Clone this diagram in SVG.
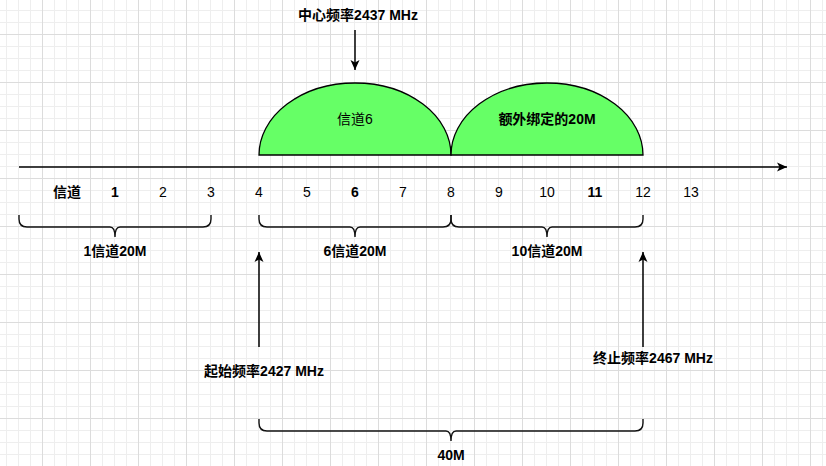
<svg xmlns="http://www.w3.org/2000/svg" width="826" height="466" viewBox="0 0 826 466">
  <defs>
    <pattern id="minor" x="6" y="10" width="12" height="12" patternUnits="userSpaceOnUse">
      <path d="M0.5 0V12M0 0.5H12" stroke="#eeeeee" stroke-width="1" fill="none"/>
    </pattern>
    <pattern id="major" x="42" y="34" width="48" height="48" patternUnits="userSpaceOnUse">
      <path d="M0.5 0V48M0 0.5H48" stroke="#dcdcdc" stroke-width="1" fill="none"/>
    </pattern>
    <marker id="arrow" viewBox="0 0 10 10" refX="10" refY="5" markerWidth="10" markerHeight="10" orient="auto" markerUnits="userSpaceOnUse">
      <path d="M0 0.5L10 5L0 9.5L2.5 5Z" fill="#000"/>
    </marker>
    <style>
      text { font-family: "Liberation Sans", "Noto Sans CJK SC", sans-serif; font-size: 14px; fill: #000; text-anchor: middle; }
      .b { font-weight: bold; }
      .brace { fill: none; stroke: #111; stroke-width: 1.4; }
      .arr { fill: none; stroke: #000; stroke-width: 1.5; }
      .lobe { fill: #66ff66; stroke: #000; stroke-width: 1.3; }
    </style>
  </defs>
  <rect width="826" height="466" fill="#fff"/>
  <rect width="826" height="466" fill="url(#minor)"/>
  <rect width="826" height="466" fill="url(#major)"/>

  <g id="channel6">
    <path class="lobe" d="M259 155A96 72 0 0 1 451 155Z"/>
    <text x="355" y="124">信道6</text>
  </g>
  <g id="extra20m">
    <path class="lobe" d="M451 155A96 72 0 0 1 643 155Z"/>
    <text class="b" x="547" y="124">额外绑定的20M</text>
  </g>

  <g id="center-label">
    <text class="b" x="358" y="20">中心频率2437 MHz</text>
  </g>
  <g id="start-label">
    <text class="b" x="264" y="376">起始频率2427 MHz</text>
  </g>
  <g id="end-label">
    <text class="b" x="653" y="363">终止频率2467 MHz</text>
  </g>

  <g id="channel-numbers">
    <text class="b" x="67" y="197">信道</text>
    <text class="b" x="115" y="197">1</text>
    <text x="163" y="197">2</text>
    <text x="211" y="197">3</text>
    <text x="259" y="197">4</text>
    <text x="307" y="197">5</text>
    <text class="b" x="355" y="197">6</text>
    <text x="403" y="197">7</text>
    <text x="451" y="197">8</text>
    <text x="499" y="197">9</text>
    <text x="547" y="197">10</text>
    <text class="b" x="595" y="197">11</text>
    <text x="643" y="197">12</text>
    <text x="691" y="197">13</text>
  </g>

  <g id="brace-ch1">
    <path class="brace" d="M19 215V219Q19 227 27 227H110Q115 227 115 237Q115 227 120 227H203Q211 227 211 219V215"/>
    <text class="b" x="115" y="256">1信道20M</text>
  </g>
  <g id="brace-ch6">
    <path class="brace" d="M259 215V219Q259 227 267 227H350Q355 227 355 237Q355 227 360 227H443Q451 227 451 219V215"/>
    <text class="b" x="355" y="256">6信道20M</text>
  </g>
  <g id="brace-ch10">
    <path class="brace" d="M451 215V219Q451 227 459 227H542Q547 227 547 237Q547 227 552 227H635Q643 227 643 219V215"/>
    <text class="b" x="547" y="256">10信道20M</text>
  </g>
  <g id="brace-40m">
    <path class="brace" d="M259 419V423Q259 431 267 431H446Q451 431 451 441Q451 431 456 431H635Q643 431 643 423V419"/>
    <text class="b" x="451" y="460">40M</text>
  </g>

  <g id="connectors">
    <path class="arr" d="M19 167H787" marker-end="url(#arrow)"/>
    <path class="arr" d="M355 30V70" marker-end="url(#arrow)"/>
    <path class="arr" d="M259 347V252" marker-end="url(#arrow)"/>
    <path class="arr" d="M643 347V252" marker-end="url(#arrow)"/>
  </g>
</svg>
